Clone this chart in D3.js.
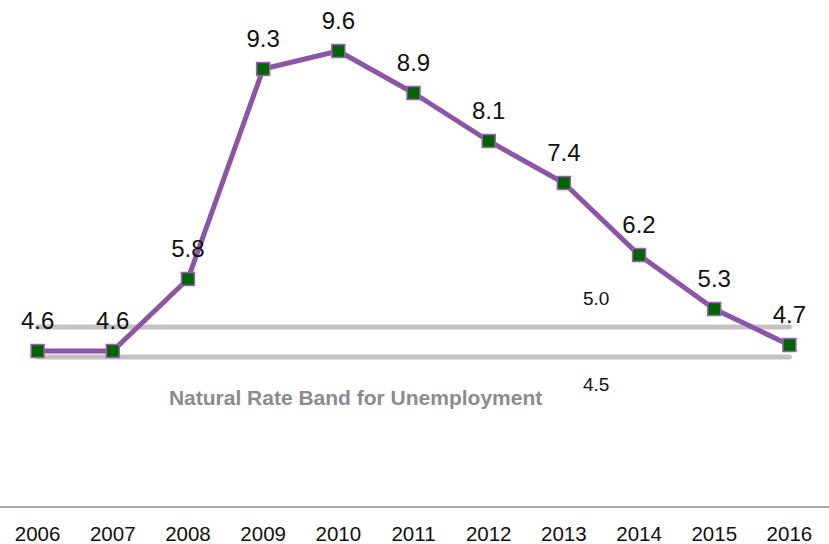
<!DOCTYPE html>
<html>
<head>
<meta charset="utf-8">
<script src="https://cdn.jsdelivr.net/npm/d3@7"></script>
<style>
  html, body { margin: 0; padding: 0; background: #fff; }
  svg { display: block; }
</style>
</head>
<body>
<svg id="chart" width="829" height="544"></svg>
<script>
// Unemployment rate by year (%)
const years = ["2006", "2007", "2008", "2009", "2010", "2011", "2012", "2013", "2014", "2015", "2016"];
const rates = [4.6, 4.6, 5.8, 9.3, 9.6, 8.9, 8.1, 7.4, 6.2, 5.3, 4.7];

// Natural rate band limits (%)
const bandLimits = [5.0, 4.5];
const bandTitle = "Natural Rate Band for Unemployment";

const W = 829, H = 544;
const FONT = "Liberation Sans, Arial, sans-serif";
const svg = d3.select("#chart");

const x = d3.scalePoint().domain(years).range([0, 827]).padding(0.5);
const y = d3.scaleLinear().domain([0, 10]).range([627, 27]);

const data = years.map((yr, i) => ({ year: yr, value: rates[i] }));

// Band lines
const bandX0 = x(years[0]), bandX1 = x(years[years.length - 1]);
svg.selectAll("line.band")
  .data(bandLimits)
  .join("line")
  .attr("class", "band")
  .attr("x1", bandX0).attr("x2", bandX1)
  .attr("y1", d => y(d)).attr("y2", d => y(d))
  .attr("stroke", "#c3c3c3")
  .attr("stroke-width", 5)
  .attr("stroke-linecap", "round");

// Band labels
const bandLabelX = x("2013") + x.step() * 0.43;
svg.append("text")
  .attr("x", bandLabelX).attr("y", y(bandLimits[0]) - 22)
  .attr("text-anchor", "middle")
  .attr("font-family", FONT)
  .attr("font-size", 19)
  .attr("fill", "#111")
  .text(bandLimits[0].toFixed(1));
svg.append("text")
  .attr("x", bandLabelX).attr("y", y(bandLimits[1]) + 34)
  .attr("text-anchor", "middle")
  .attr("font-family", FONT)
  .attr("font-size", 19)
  .attr("fill", "#111")
  .text(bandLimits[1].toFixed(1));

svg.append("text")
  .attr("x", x("2010") + x.step() * 0.23).attr("y", y(bandLimits[1]) + 48)
  .attr("text-anchor", "middle")
  .attr("font-family", FONT)
  .attr("font-weight", "bold")
  .attr("font-size", 21)
  .attr("fill", "#8c8c8c")
  .text(bandTitle);

// Baseline axis
const axisY = 507;
svg.append("line")
  .attr("x1", 0).attr("x2", W)
  .attr("y1", axisY).attr("y2", axisY)
  .attr("stroke", "#a6a6a6")
  .attr("stroke-width", 2);

svg.selectAll("text.year")
  .data(years)
  .join("text")
  .attr("class", "year")
  .attr("x", d => x(d))
  .attr("y", 541)
  .attr("text-anchor", "middle")
  .attr("font-family", FONT)
  .attr("font-size", 20.5)
  .attr("fill", "#111")
  .text(d => d);

// Rate line
const line = d3.line().x(d => x(d.year)).y(d => y(d.value));
svg.append("path")
  .datum(data)
  .attr("d", line)
  .attr("fill", "none")
  .attr("stroke", "#8c55a6")
  .attr("stroke-width", 5)
  .attr("stroke-linejoin", "round");

// Markers
const ms = 13;
svg.selectAll("rect.pt")
  .data(data)
  .join("rect")
  .attr("class", "pt")
  .attr("x", d => x(d.year) - ms / 2)
  .attr("y", d => y(d.value) - ms / 2)
  .attr("width", ms).attr("height", ms)
  .attr("fill", "#006400")
  .attr("stroke", "#9a62b4")
  .attr("stroke-width", 1.5);

// Value labels
svg.selectAll("text.val")
  .data(data)
  .join("text")
  .attr("class", "val")
  .attr("x", d => x(d.year))
  .attr("y", d => y(d.value) - 22)
  .attr("text-anchor", "middle")
  .attr("font-family", FONT)
  .attr("font-size", 24)
  .attr("fill", "#111")
  .text(d => d.value.toFixed(1));
</script>
</body>
</html>
